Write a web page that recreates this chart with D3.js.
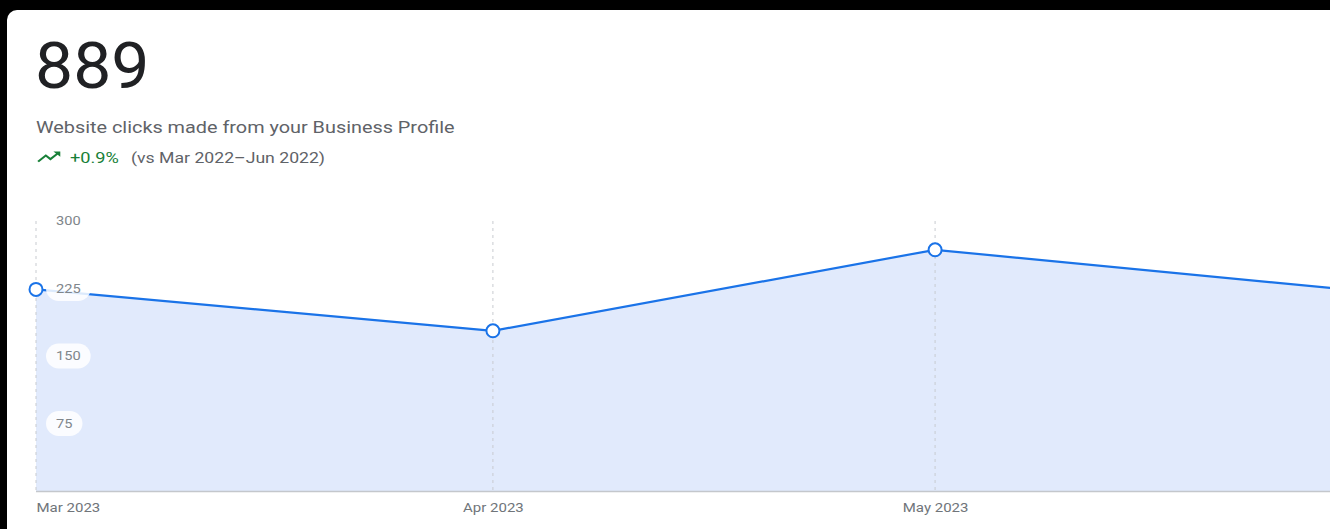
<!DOCTYPE html>
<html>
<head>
<meta charset="utf-8">
<script src="https://cdn.jsdelivr.net/npm/d3@7"></script>
<style>
  html, body { margin: 0; padding: 0; background: #000; }
  svg { display: block; font-family: Roboto, "Noto Sans", sans-serif; }
</style>
</head>
<body>
<svg id="chart" width="1330" height="529"></svg>
<script>
// data
var months = ["2023-03-01", "2023-04-01", "2023-05-01", "2023-06-01"];
var monthLabels = ["Mar 2023", "Apr 2023", "May 2023", "Jun 2023"];
var clicks = [224, 178, 268, 219];
var yTicks = [75, 150, 225, 300];
var total = "889";
var subtitle = "Website clicks made from your Business Profile";
var change = "+0.9%";
var compare = "(vs Mar 2022\u2013Jun 2022)";

var svg = d3.select("#chart");
var parse = d3.utcParse("%Y-%m-%d");
var dates = months.map(parse);
var pts = dates.map(function (d, i) { return { date: d, value: clicks[i] }; });

// the screenshot looks stretched sideways, widen text the same way
function widen(sel, k) {
    sel.each(function () {
        var w = this.getComputedTextLength();
        d3.select(this).attr("textLength", w * k).attr("lengthAdjust", "spacingAndGlyphs");
    });
}

// card
svg.append("rect").attr("x", 0).attr("y", 0).attr("width", 1330).attr("height", 529).attr("fill", "#000");
svg.append("rect").attr("x", 7).attr("y", 10).attr("width", 1340).attr("height", 530).attr("rx", 10).attr("fill", "#fff");

// header
svg.append("text").attr("x", 35).attr("y", 88).style("font-size", "64px").attr("fill", "#202124").text(total)
    .call(widen, 1.06);
svg.append("text").attr("x", 36).attr("y", 133).style("font-size", "16px").attr("fill", "#5f6368").text(subtitle)
    .call(widen, 1.24);
svg.append("path")
    .attr("d", "M16 6l2.29 2.29-4.88 4.88-4-4L2 16.59 3.41 18l6-6 4 4 6.3-6.29L22 12V6z")
    .attr("transform", "translate(35,146) scale(1.15,0.9)")
    .attr("fill", "#188038");
svg.append("text").attr("x", 70).attr("y", 163).style("font-size", "14px").attr("fill", "#188038").text(change)
    .call(widen, 1.3);
svg.append("text").attr("x", 131).attr("y", 163).style("font-size", "14px").attr("fill", "#5f6368").text(compare)
    .call(widen, 1.26);

// scales
var x = d3.scaleUtc().domain([dates[0], dates[dates.length - 1]]).range([36, 1392]);
var y = d3.scaleLinear().domain([0, 300]).range([491, 221]);

// area
svg.append("path").datum(pts)
    .attr("fill", "#e1eafc")
    .attr("d", d3.area().x(function (d) { return x(d.date); }).y0(y(0)).y1(function (d) { return y(d.value); }));

// vertical dashed grid
svg.append("g").selectAll("line").data(dates).join("line")
    .attr("x1", function (d) { return x(d); }).attr("x2", function (d) { return x(d); })
    .attr("y1", y(300)).attr("y2", y(0))
    .attr("stroke", "#c8cbd0").attr("stroke-width", 1).attr("stroke-dasharray", "3,4");

// baseline
svg.append("line").attr("x1", 36).attr("x2", 1392).attr("y1", y(0) + 0.5).attr("y2", y(0) + 0.5)
    .attr("stroke", "#c4c7cc").attr("stroke-width", 1.5);

svg.append("path").datum(pts)
    .attr("fill", "none").attr("stroke", "#1a73e8").attr("stroke-width", 2.2)
    .attr("d", d3.line().x(function (d) { return x(d.date); }).y(function (d) { return y(d.value); }));

// y labels on pills
var yl = svg.append("g").selectAll("g").data(yTicks).join("g")
    .attr("transform", function (d) { return "translate(56," + y(d) + ")"; });
var pill = yl.append("rect").attr("y", -12.5).attr("height", 25).attr("rx", 12.5)
    .attr("fill", "#fff").attr("fill-opacity", 0.85);
var yt = yl.append("text").attr("dy", "0.35em").style("font-size", "12px").attr("fill", "#80868b")
    .text(function (d) { return d; })
    .call(widen, 1.22);
yt.each(function (d, i) {
    var w = +d3.select(this).attr("textLength");
    d3.select(pill.nodes()[i]).attr("x", -10).attr("width", w + 20);
});

// points
svg.append("g").selectAll("circle").data(pts).join("circle")
    .attr("cx", function (d) { return x(d.date); }).attr("cy", function (d) { return y(d.value); })
    .attr("r", 6.5).attr("fill", "#fff").attr("stroke", "#1a73e8").attr("stroke-width", 2);

// x axis labels
var xa = svg.append("g").attr("transform", "translate(0," + y(0) + ")")
    .call(d3.axisBottom(x).tickValues(dates).tickSize(0).tickPadding(12)
        .tickFormat(function (d, i) { return monthLabels[i]; }));
xa.select(".domain").remove();
xa.selectAll("text").style("font-size", "12.5px").style("font-family", "Roboto, sans-serif").attr("fill", "#70757a")
    .attr("text-anchor", function (d, i) { return i === 0 ? "start" : i === dates.length - 1 ? "end" : "middle"; })
    .call(widen, 1.2);
</script>
</body>
</html>
